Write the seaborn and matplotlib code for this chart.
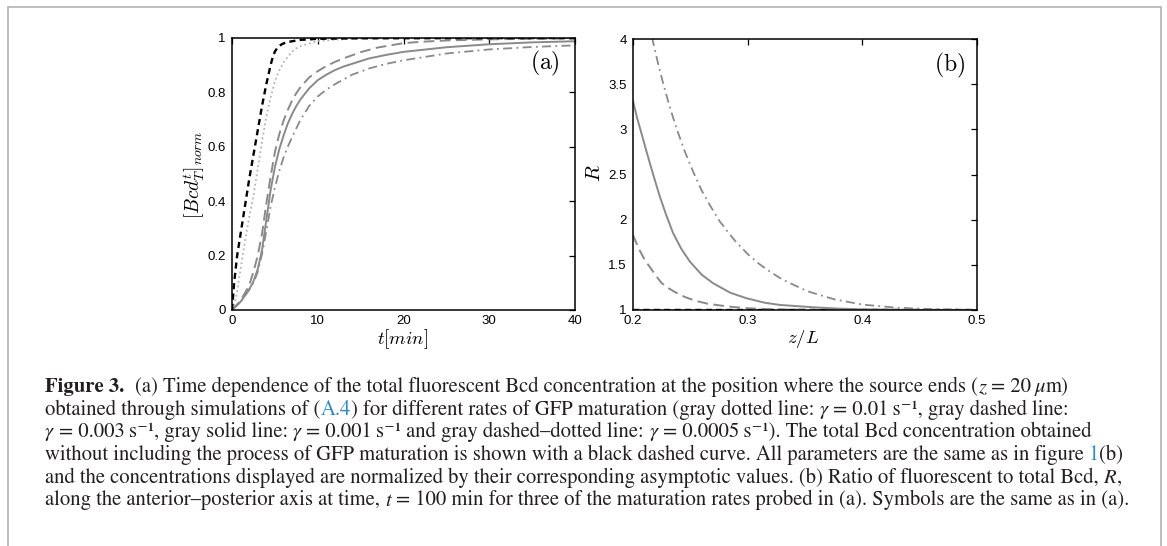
import matplotlib
matplotlib.use("Agg")
import numpy as np
import pandas as pd
import matplotlib.pyplot as plt
import seaborn as sns
from matplotlib.patches import Rectangle
from matplotlib.ticker import FixedLocator, FuncFormatter

# ---------------- panel (a): normalized total fluorescent Bcd vs time ----------------
t_black = [0, 0.25, 0.6, 1.0, 1.5, 2.0, 2.5, 3.0, 3.5, 4.0, 4.5, 4.75, 5.0, 5.25, 5.5, 5.75,
           6.0, 6.5, 7.0, 8.0, 10.0, 15.0, 40.0]
bcd_black = [0, 0.10, 0.20, 0.28, 0.38, 0.48, 0.57, 0.66, 0.75, 0.83, 0.90, 0.93, 0.95, 0.962,
             0.970, 0.976, 0.980, 0.985, 0.988, 0.993, 0.997, 0.999, 1.0]

t_dotted = [0, 0.5, 1.0, 1.5, 2.0, 2.5, 3.0, 3.5, 4.0, 4.5, 5.0, 5.5, 6.0, 6.5, 7.0, 7.5,
            8.0, 9.0, 10.0, 12.0, 15.0, 20.0, 40.0]
bcd_dotted = [0, 0.05, 0.15, 0.25, 0.34, 0.42, 0.52, 0.62, 0.71, 0.78, 0.84, 0.88, 0.91, 0.93,
              0.95, 0.962, 0.970, 0.980, 0.988, 0.994, 0.998, 1.0, 1.0]

t_dashed = [0, 1, 2, 2.5, 3, 3.5, 4, 4.5, 5, 5.5, 6, 6.5, 7, 7.5, 8, 9, 10, 11, 12, 13, 15,
            17, 20, 22, 25, 30, 35, 40]
bcd_dashed = [0, 0.035, 0.09, 0.14, 0.20, 0.28, 0.39, 0.49, 0.58, 0.645, 0.695, 0.735, 0.77,
              0.797, 0.82, 0.855, 0.878, 0.897, 0.912, 0.925, 0.948, 0.965, 0.981, 0.986,
              0.991, 0.995, 0.997, 0.998]

t_solid = [0, 1, 2, 2.5, 3, 3.5, 4, 4.5, 5, 5.5, 6, 6.5, 7, 7.5, 8, 9, 10, 11, 12, 13, 14,
           16, 18, 20, 25, 30, 35, 40]
bcd_solid = [0, 0.03, 0.075, 0.105, 0.15, 0.22, 0.33, 0.44, 0.525, 0.59, 0.64, 0.685, 0.72,
             0.75, 0.775, 0.815, 0.845, 0.865, 0.882, 0.895, 0.905, 0.925, 0.938, 0.949,
             0.966, 0.977, 0.984, 0.988]

t_dashdot = [0, 1, 2, 2.5, 3, 3.5, 4, 4.5, 5, 5.5, 6, 6.5, 7, 7.5, 8, 9, 10, 11, 12, 14, 16,
             18, 20, 25, 30, 35, 40]
bcd_dashdot = [0, 0.03, 0.075, 0.10, 0.14, 0.205, 0.29, 0.38, 0.45, 0.51, 0.56, 0.60, 0.635,
               0.668, 0.70, 0.75, 0.785, 0.81, 0.83, 0.865, 0.888, 0.905, 0.918, 0.943,
               0.958, 0.967, 0.973]

# ---------------- panel (b): ratio R of fluorescent to total Bcd along z/L ----------------
z_dashed = [0.200, 0.205, 0.210, 0.215, 0.220, 0.2248, 0.2305, 0.2364, 0.245, 0.255, 0.265,
            0.276, 0.288, 0.300, 0.315, 0.330, 0.360, 0.400, 0.500]
R_dashed = [1.83, 1.68, 1.56, 1.47, 1.38, 1.30, 1.245, 1.20, 1.145, 1.10, 1.07, 1.05, 1.032,
            1.02, 1.011, 1.006, 1.002, 1.0, 1.0]

z_solid = [0.200, 0.2035, 0.2073, 0.211, 0.2146, 0.219, 0.2233, 0.229, 0.235, 0.242, 0.2495,
           0.260, 0.2699, 0.285, 0.299, 0.315, 0.3282, 0.3573, 0.380, 0.401, 0.450, 0.500]
R_solid = [3.315, 3.13, 2.96, 2.79, 2.63, 2.44, 2.26, 2.05, 1.85, 1.68, 1.537, 1.39, 1.296,
           1.19, 1.13, 1.08, 1.056, 1.03, 1.015, 1.007, 1.001, 1.0]

z_dashdot = [0.200, 0.210, 0.2169, 0.222, 0.2265, 0.232, 0.238, 0.245, 0.2525, 0.260, 0.268,
             0.2757, 0.283, 0.290, 0.300, 0.310, 0.320, 0.330, 0.3515, 0.375, 0.400, 0.430,
             0.460, 0.500]
R_dashdot = [5.10, 4.40, 4.00, 3.72, 3.50, 3.25, 3.01, 2.76, 2.53, 2.32, 2.14, 1.98, 1.86,
             1.75, 1.62, 1.51, 1.42, 1.34, 1.21, 1.12, 1.06, 1.025, 1.01, 1.0]

z_black = [0.20, 0.50]
R_black = [1.0, 1.0]

xticks_a = [0, 10, 20, 30, 40]
yticks_a = [0, 0.2, 0.4, 0.6, 0.8, 1]
xticks_b = [0.2, 0.3, 0.4, 0.5]
yticks_b = [1, 1.5, 2, 2.5, 3, 3.5, 4]

THIN = "\u2009"
INV_S = "s\u207b\u00b9"
caption_lines = [
    [("Figure 3.", "bold"),
     ("  (a) Time dependence of the total fluorescent Bcd concentration at the position where the source ends (", "text"),
     ("z", "ital"), (" = 20" + THIN, "text"), ("\u03bc", "ital"), ("m)", "text")],
    [("obtained through simulations of (", "text"), ("A.4", "link"),
     (") for different rates of GFP maturation (gray dotted line: ", "text"), ("\u03b3", "ital"),
     (" = 0.01" + THIN + INV_S + ", gray dashed line:", "text")],
    [("\u03b3", "ital"), (" = 0.003" + THIN + INV_S + ", gray solid line: ", "text"), ("\u03b3", "ital"),
     (" = 0.001" + THIN + INV_S + " and gray dashed\u2013dotted line: ", "text"), ("\u03b3", "ital"),
     (" = 0.0005" + THIN + INV_S + "). The total Bcd concentration obtained", "text")],
    [("without including the process of GFP maturation is shown with a black dashed curve. All parameters are the same as in figure ", "text"),
     ("1", "link"), ("(b)", "text")],
    [("and the concentrations displayed are normalized by their corresponding asymptotic values. (b) Ratio of fluorescent to total Bcd, ", "text"),
     ("R", "ital"), (",", "text")],
    [("along the anterior\u2013posterior axis at time, ", "text"), ("t", "ital"),
     (" = 100 min for three of the maturation rates probed in (a). Symbols are the same as in (a).", "text")],
]

# ---------------- figure ----------------
sns.set_theme(style="white")
plt.rcParams["font.family"] = ["Liberation Sans", "DejaVu Sans"]
plt.rcParams["axes.linewidth"] = 1.0

W, H = 1167, 546
fig = plt.figure(figsize=(W / 100, H / 100), dpi=100)
fig.patch.set_facecolor("white")


def fx(px):
    return px / W


def fy(py):
    return 1 - py / H


ax_a = fig.add_axes([fx(232), fy(310), fx(575) - fx(232), fy(38) - fy(310)])
ax_b = fig.add_axes([fx(633), fy(310), fx(977) - fx(633), fy(39) - fy(310)])

GRAY = "#8a8a8a"
LIGHT = "#b4b4b4"

frame_a = pd.concat([
    pd.DataFrame({"t": t_dotted, "v": bcd_dotted, "c": "dotted"}),
    pd.DataFrame({"t": t_dashed, "v": bcd_dashed, "c": "dashed"}),
    pd.DataFrame({"t": t_solid, "v": bcd_solid, "c": "solid"}),
    pd.DataFrame({"t": t_dashdot, "v": bcd_dashdot, "c": "dashdot"}),
    pd.DataFrame({"t": t_black, "v": bcd_black, "c": "black"}),
])

styles = {
    "dotted": dict(color=LIGHT, lw=1.3, ls=(0, (1, 1.6))),
    "dashed": dict(color=GRAY, lw=1.4, ls=(0, (5.5, 2.8))),
    "solid": dict(color=GRAY, lw=1.4, ls="-"),
    "dashdot": dict(color=GRAY, lw=1.3, ls=(0, (5.0, 2.4, 1.0, 2.4))),
    "black": dict(color="black", lw=1.7, ls=(0, (2.6, 1.8))),
}

for name in ["dotted", "dashed", "solid", "dashdot", "black"]:
    d = frame_a[frame_a["c"] == name]
    st = styles[name]
    sns.lineplot(data=d, x="t", y="v", ax=ax_a, color=st["color"], lw=st["lw"],
                 linestyle=st["ls"], estimator=None, sort=False, legend=False)

frame_b = pd.concat([
    pd.DataFrame({"z": z_dashed, "R": R_dashed, "c": "dashed"}),
    pd.DataFrame({"z": z_solid, "R": R_solid, "c": "solid"}),
    pd.DataFrame({"z": z_dashdot, "R": R_dashdot, "c": "dashdot"}),
    pd.DataFrame({"z": z_black, "R": R_black, "c": "black"}),
])
for name in ["black", "dashed", "solid", "dashdot"]:
    d = frame_b[frame_b["c"] == name]
    st = styles[name]
    sns.lineplot(data=d, x="z", y="R", ax=ax_b, color=st["color"], lw=st["lw"],
                 linestyle=st["ls"], estimator=None, sort=False, legend=False)

fmt = FuncFormatter(lambda v, p: f"{v:g}")
for ax, xt, yt, xl, yl in [(ax_a, xticks_a, yticks_a, (0, 40), (0, 1)),
                           (ax_b, xticks_b, yticks_b, (0.2, 0.5), (1, 4))]:
    ax.set_xlim(*xl)
    ax.set_ylim(*yl)
    ax.xaxis.set_major_locator(FixedLocator(xt))
    ax.yaxis.set_major_locator(FixedLocator(yt))
    ax.xaxis.set_major_formatter(fmt)
    ax.yaxis.set_major_formatter(fmt)
    ax.tick_params(direction="in", length=4, width=0.9, top=True, right=True,
                   labelsize=9.5, colors="black")
    ax.tick_params(axis="x", pad=3.4)
    ax.tick_params(axis="y", pad=4.5)
    for s in ax.spines.values():
        s.set_visible(True)
        s.set_color("black")
        s.set_linewidth(1.1)
    ax.set_facecolor("white")
    ax.grid(False)
    ax.set_xlabel("")
    ax.set_ylabel("")


def axes_label(px, py, text, rot=0, size=14):
    fig.text(fx(px), fy(py), text, rotation=rot, ha="center", va="center",
             fontsize=size, math_fontfamily="cm", color="black")


axes_label(403, 339, "$t[min]$", size=13.5)
axes_label(194, 175, "$[Bcd_T^t]_{norm}$", rot=90)
axes_label(803, 339, "$z/L$", size=13.5)
axes_label(595, 173, "$R$", rot=90, size=15)
axes_label(545, 63, "$\\mathrm{(a)}$", size=17)
axes_label(950, 65, "$\\mathrm{(b)}$", size=17)

# page frame around the figure block
fig.add_artist(Rectangle((fx(8), fy(600)), fx(1161) - fx(8), fy(7) - fy(600),
                         transform=fig.transFigure, fill=False,
                         edgecolor="#b3b3b3", lw=1.2))

# ---------------- caption ----------------
renderer = fig.canvas.get_renderer()
INK = "#231f20"
seg_props = {
    "text": dict(color=INK, fontweight="normal", fontstyle="normal"),
    "bold": dict(color=INK, fontweight="bold", fontstyle="normal"),
    "ital": dict(color=INK, fontweight="normal", fontstyle="italic"),
    "link": dict(color="#2b8ad0", fontweight="normal", fontstyle="normal"),
}
CAP_FONT = ["STIXGeneral", "DejaVu Serif"]


def space_width(size):
    p1 = fig.text(0, 0, "n n", fontsize=size, family=CAP_FONT)
    p2 = fig.text(0, 0, "nn", fontsize=size, family=CAP_FONT)
    w = p1.get_window_extent(renderer).width - p2.get_window_extent(renderer).width
    p1.remove()
    p2.remove()
    return w


def draw_line(segments, x0, base_y, size):
    sp = space_width(size)
    x = x0
    texts = []
    for s, kind in segments:
        core = s.strip(" ")
        n_lead = len(s) - len(s.lstrip(" "))
        n_trail = len(s) - len(s.rstrip(" "))
        x += n_lead * sp
        t = fig.text(fx(x), fy(base_y), core, fontsize=size, family=CAP_FONT,
                     va="baseline", ha="left", **seg_props[kind])
        x += t.get_window_extent(renderer).width + n_trail * sp
        texts.append(t)
    return texts, x


CAP_X = 45
base_size = 13.0
tmp, end = draw_line(caption_lines[0], CAP_X, 392, base_size)
for t in tmp:
    t.remove()
cap_size = base_size * (1066 - CAP_X) / (end - CAP_X)

for i, line in enumerate(caption_lines):
    draw_line(line, CAP_X, 392 + i * 22.7, cap_size)

fig.savefig("out.png", dpi=100, facecolor="white")
